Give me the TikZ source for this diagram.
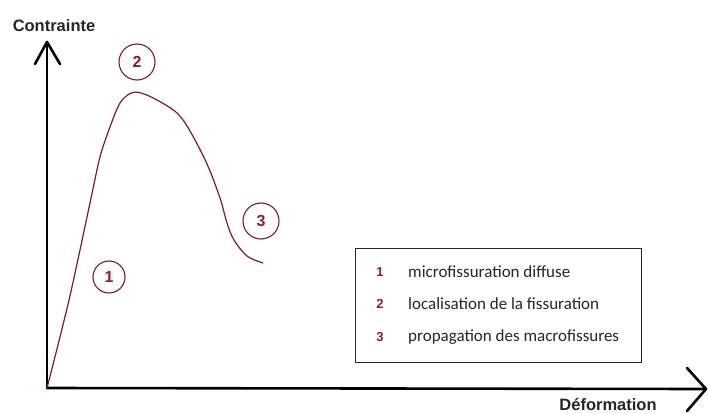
\documentclass[tikz,border=0pt]{standalone}
\usepackage{fontspec}
\setmainfont{Liberation Sans}
\newfontfamily\legfont{Carlito}
\definecolor{curvered}{RGB}{120,30,35}
\definecolor{numred}{RGB}{140,30,35}
\begin{document}
\begin{tikzpicture}[x=1pt,y=-1pt,
  axisline/.style={line width=2.6pt, black, line cap=round, line join=round},
  curveline/.style={line width=1.2pt, curvered, line cap=round},
  numcirc/.style={circle, draw=curvered, line width=1.1pt, inner sep=0pt, minimum size=34pt,
    text=numred, font=\bfseries\fontsize{16}{16}\selectfont},
  axislabel/.style={font=\bfseries\fontsize{16.5}{16.5}\selectfont, text=black!85},
  legnum/.style={font=\bfseries\fontsize{13}{13}\selectfont, text=numred},
  legtext/.style={font=\legfont\fontsize{17}{17}\selectfont, text=black!85, anchor=west, inner sep=0pt},
  legbox/.style={draw=black!85, line width=1.4pt}]
\useasboundingbox (0,0) rectangle (708,414);
% axes
\coordinate (O) at (47,388);
\coordinate (Ytip) at (47,42);
\coordinate (Xtip) at (706,389);
\draw[axisline] (O) -- (Ytip);
\draw[axisline] (O) -- (Xtip);
\coordinate (Yl) at (35,64);
\coordinate (Yr) at (60,64);
\draw[axisline] (Yl) -- (Ytip) -- (Yr);
\coordinate (Xu) at (687,368);
\coordinate (Xd) at (687,411);
\draw[axisline] (Xu) -- (Xtip) -- (Xd);
\node[axislabel] (ylab) at (54,26) {Contrainte};
\node[axislabel] (xlab) at (608,405) {Déformation};
% curve
\draw[curveline] plot[smooth, tension=0.55] coordinates {
  (47,388) (69,300) (90,203) (100,157) (110,127) (120,103) (131,93) (141,93)
  (157,100) (177,113) (190,131) (207,164) (220,198) (227,223) (234,240) (247,256) (263,263)};
% numbered circles
\node[numcirc, minimum size=32pt] (c1) at (109,277) {1};
\node[numcirc, minimum size=36pt] (c2) at (137,62) {2};
\node[numcirc, minimum size=36pt] (c3) at (261,221) {3};
% legend
\node[legbox, minimum width=286pt, minimum height=114pt, anchor=north west] (leg) at (355,248) {};
\node[legnum] (n1) at (380,272) {1};
\node[legnum] (n2) at (380,304) {2};
\node[legnum] (n3) at (380,337) {3};
\node[legtext] (t1) at (408,272) {microfissuration diffuse};
\node[legtext] (t2) at (408,304) {localisation de la fissuration};
\node[legtext] (t3) at (408,337) {propagation des macrofissures};
\end{tikzpicture}
\end{document}
